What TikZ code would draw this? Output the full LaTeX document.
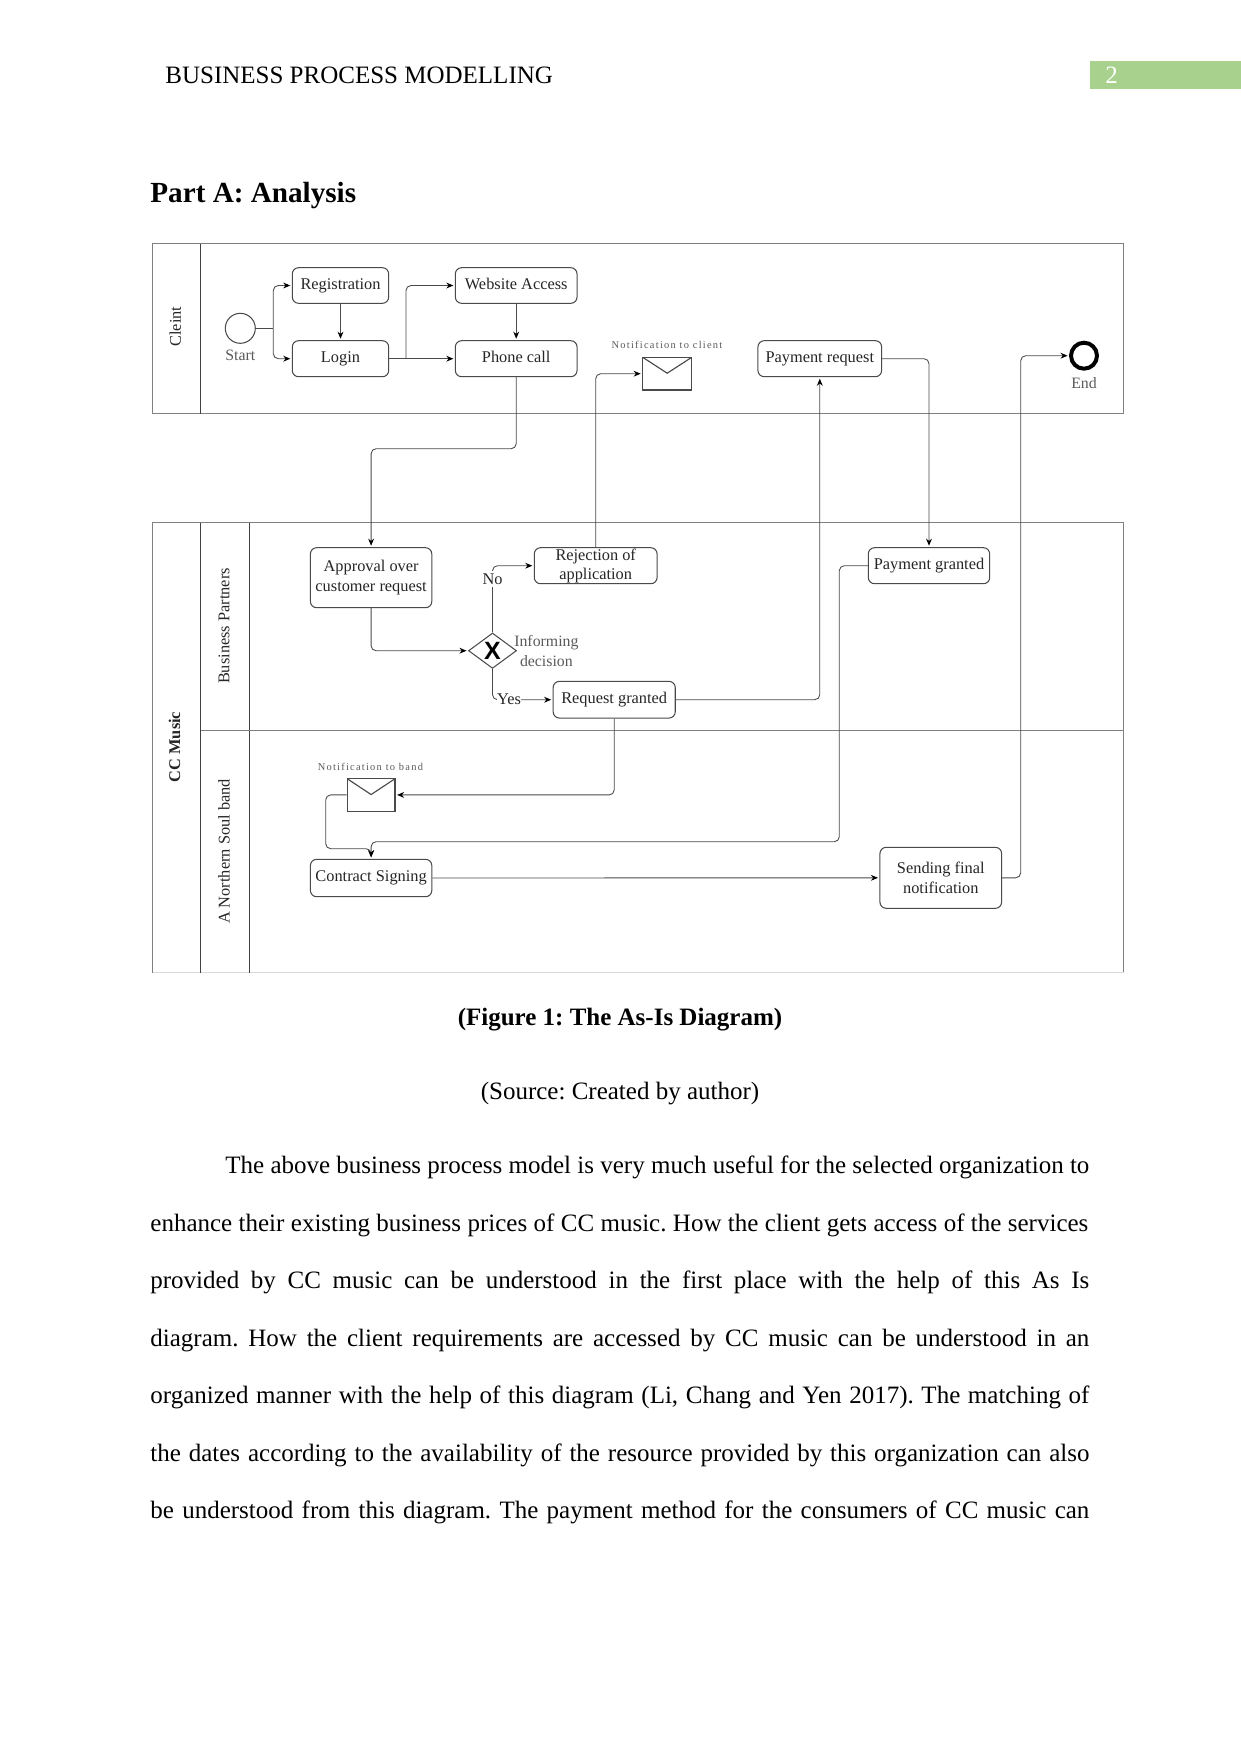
\documentclass[tikz,border=0pt]{standalone}
\usepackage{fontspec}
\setmainfont{Liberation Serif}
\newfontfamily\spacedserif[LetterSpace=12]{Liberation Serif}
\newfontfamily\gatefont{Liberation Sans}
\usetikzlibrary{arrows.meta,shapes.geometric}
\definecolor{linegray}{HTML}{4A4A4A}
\definecolor{framegray}{HTML}{808080}
\definecolor{labelgray}{HTML}{5A5A5A}
\definecolor{headergreen}{HTML}{A9D18E}
\newcommand{\bodyline}[2]{\makebox[#1][s]{#2}}
\tikzset{
  boxsize/.style 2 args={minimum width=#1*0.48pt,minimum height=#2*0.48pt},
  taskbox/.style={draw=linegray,line width=0.5pt,rectangle,rounded corners=3pt,inner sep=0pt,
    align=center,text=black!85,font=\fontsize{7.85}{9.3}\selectfont},
  flow/.style={draw=linegray,line width=0.42pt,rounded corners=2.4pt,
    -{Stealth[length=3.4pt,width=2.8pt,color=black]},shorten >=0.7pt},
  plainflow/.style={draw=linegray,line width=0.42pt,rounded corners=2.4pt},
  mailbox/.style={draw=linegray,line width=0.55pt,rectangle,inner sep=0pt,
    path picture={\draw[linegray,line width=0.55pt]
      (path picture bounding box.north west) --
      ([yshift=-7.6pt]path picture bounding box.north) --
      (path picture bounding box.north east);}},
  smallnote/.style={inner sep=0pt,text=labelgray,font=\fontsize{5}{6}\spacedserif},
  greylabel/.style={inner sep=0pt,align=center,text=labelgray,font=\fontsize{7.6}{9.3}\selectfont},
  darklabel/.style={inner sep=0pt,text=black!85,font=\fontsize{7.85}{9.3}\selectfont},
  lanetitle/.style={inner sep=0pt,rotate=90,text=black!85,font=\fontsize{7.85}{9.3}\selectfont},
  pooltitle/.style={inner sep=0pt,rotate=90,text=black!85,font=\fontsize{7.85}{9.3}\selectfont},
  frame/.style={draw=framegray,line width=0.55pt},
  divider/.style={draw=black!75,line width=0.5pt},
  pagetext/.style={inner sep=0pt,anchor=base west,font=\fontsize{12}{14}\selectfont},
  pagecentre/.style={inner sep=0pt,anchor=base,font=\fontsize{12}{14}\selectfont},
}
\begin{document}
\frenchspacing
\begin{tikzpicture}[x=0.48pt,y=-0.48pt]
\useasboundingbox (0,0) rectangle (1241,1754);
\fill[white] (0,0) rectangle (1241,1754);

% page header
\node[pagetext] (header) at (165,83) {BUSINESS PROCESS MODELLING};
\fill[headergreen] (1090,61) rectangle (1241,89);
\node[pagetext,text=white] (pageno) at (1105,83) {2};
\node[pagetext,font=\fontsize{14}{17}\bfseries] (parttitle) at (150,202) {Part A: Analysis};

% pools and lanes
\draw[frame] (152.8,243.6) rectangle (1123.5,413.6);
\draw[divider] (200.5,243.6) -- (200.5,413.6);
\draw[frame] (152.8,972.7) -- (152.8,522.7) -- (1123.5,522.7) -- (1123.5,972.7);
\draw[black!15,line width=0.5pt] (152.8,972.7) -- (1123.5,972.7);
\draw[divider] (200.5,522.7) -- (200.5,972.7);
\draw[divider] (249.3,522.7) -- (249.3,972.7);
\draw[framegray,line width=0.5pt] (200.5,730.3) -- (1123.5,730.3);

\node[pooltitle] (clienttitle) at (175.3,326.5) {Cleint};
\node[pooltitle,font=\fontsize{7.85}{9.3}\bfseries] (cctitle) at (174.6,747) {CC Music};
\node[lanetitle] (partners) at (224,626) {Business Partners};
\node[lanetitle] (band) at (224,851.5) {A Northern Soul band};

% client lane
\node[draw=linegray,line width=0.5pt,circle,minimum size=30*0.48pt,inner sep=0pt] (start) at (240.3,328.3) {};
\node[greylabel] (startlabel) at (240.3,355) {Start};
\node[taskbox,boxsize={96.4}{35.6}] (reg) at (340.5,285.5) {Registration};
\node[taskbox,boxsize={96.4}{36}] (login) at (340.5,358.7) {Login};
\node[taskbox,boxsize={121.7}{35.6}] (web) at (516.2,285.5) {Website Access\vphantom{g}};
\node[taskbox,boxsize={121.7}{36}] (phone) at (516.2,358.7) {Phone call\vphantom{g}};
\node[mailbox,boxsize={48.9}{32.7}] (mailclient) at (667.2,373.7) {};
\node[smallnote] (noteclient) at (667,345) {Notification to client};
\node[taskbox,boxsize={123.7}{36}] (payreq) at (819.8,358.7) {Payment request};
\node[draw=black,line width=1.9pt,circle,minimum size=26*0.48pt,inner sep=0pt] (end) at (1084,355.7) {};
\node[greylabel] (endlabel) at (1084,383) {End};

% business partners lane
\node[taskbox,boxsize={121.4}{60}] (approval) at (371.1,577.7) {Approval over\\customer request};
\node[taskbox,boxsize={122.8}{36}] (reject) at (595.7,565.7) {Rejection of\\application};
\node[draw=linegray,line width=0.5pt,diamond,aspect=1.36,inner sep=0pt,minimum width=48*0.48pt,minimum height=35.4*0.48pt] (gate) at (492.5,650.7) {};
\node[inner sep=0pt,font=\fontsize{12}{14}\gatefont\bfseries] (gatex) at (492.5,650.7) {X};
\node[greylabel] (gatelabel) at (546.4,651) {Informing\\decision};
\node[taskbox,boxsize={122.1}{36.7}] (granted) at (614.2,699.7) {Request granted};
\node[taskbox,boxsize={121.4}{36}] (paygranted) at (929,565.7) {Payment granted};

% northern soul band lane
\node[mailbox,boxsize={47.9}{32.4}] (mailband) at (371.1,794.9) {};
\node[smallnote] (noteband) at (370.4,766.5) {Notification to band};
\node[taskbox,boxsize={121.4}{37.4}] (contract) at (371.1,878) {Contract Signing};
\node[taskbox,boxsize={121.7}{61}] (sending) at (940.8,877.8) {Sending final\\notification};

% routing points of the connectors
\coordinate (fork) at (273.3,328.3);
\coordinate (split) at (406,358.7);
\coordinate (phonedrop) at (516.2,448.7);
\coordinate (approvaldrop) at (371.1,448.7);
\coordinate (grantedrun) at (819.8,699.7);
\coordinate (bandleft) at (325.7,794.9);
\coordinate (bandlow) at (325.7,848.7);
\coordinate (contractin) at (371.1,848.7);
\coordinate (paydrop) at (839.3,841.7);
\coordinate (contracttop) at (371.1,841.7);
\coordinate (endrun) at (1020.7,355.7);

% connectors
\draw[plainflow] (start.east) -- (fork);
\draw[flow] (fork) |- (reg.west);
\draw[flow] (fork) |- (login.west);
\draw[flow] (reg.south) -- (login.north);
\draw[flow] (login.east) -- (phone.west);
\draw[flow] (split) |- (web.west);
\draw[flow] (web.south) -- (phone.north);
\draw[flow] (phone.south) -- (phonedrop) -- (approvaldrop) -- (approval.north);
\draw[flow] (approval.south) |- (gate.west);
\draw[flow] (gate.north) |- (reject.west);
\draw[flow] (gate.south) |- (granted.west);
\draw[flow] (reject.north) |- (mailclient.west);
\draw[flow] (granted.east) -- (grantedrun) -- (payreq.south);
\draw[flow] (granted.south) |- (mailband.east);
\draw[flow] (payreq.east) -| (paygranted.north);
\draw[flow] (paygranted.west) -| (paydrop) -- (contracttop) -- (contract.north);
\draw[flow] (mailband.west) -- (bandleft) -- (bandlow) -- (contractin) -- (contract.north);
\draw[flow] (contract.east) -- (sending.west);
\draw[flow] (sending.east) -| (endrun) -- (end.west);

% branch labels sit over their connectors
\node[darklabel,fill=white,inner ysep=1pt] (nolabel) at (492.5,579) {No};
\node[darklabel,fill=white,inner ysep=1pt] (yeslabel) at (509,699) {Yes};

% caption
\node[pagecentre,font=\fontsize{12}{14}\bfseries] (caption) at (620,1025) {(Figure 1: The As-Is Diagram)};
\node[pagecentre] (source) at (620,1099) {(Source: Created by author)};

% body paragraph
\node[pagetext] (line1) at (225,1173) {\bodyline{414.7pt}{The above business process model is very much useful for the selected organization to}};
\node[pagetext] (line2) at (150,1231) {\bodyline{450.2pt}{enhance their existing business prices of CC music. How the client gets access of the services}};
\node[pagetext] (line3) at (150,1288) {\bodyline{450.7pt}{provided by CC music can be understood in the first place with the help of this As Is}};
\node[pagetext] (line4) at (150,1346) {\bodyline{450.7pt}{diagram. How the client requirements are accessed by CC music can be understood in an}};
\node[pagetext] (line5) at (150,1403) {\bodyline{450.7pt}{organized manner with the help of this diagram (Li, Chang and Yen 2017). The matching of}};
\node[pagetext] (line6) at (150,1461) {\bodyline{450.7pt}{the dates according to the availability of the resource provided by this organization can also}};
\node[pagetext] (line7) at (150,1518) {\bodyline{450.7pt}{be understood from this diagram. The payment method for the consumers of CC music can}};
\end{tikzpicture}
\end{document}
